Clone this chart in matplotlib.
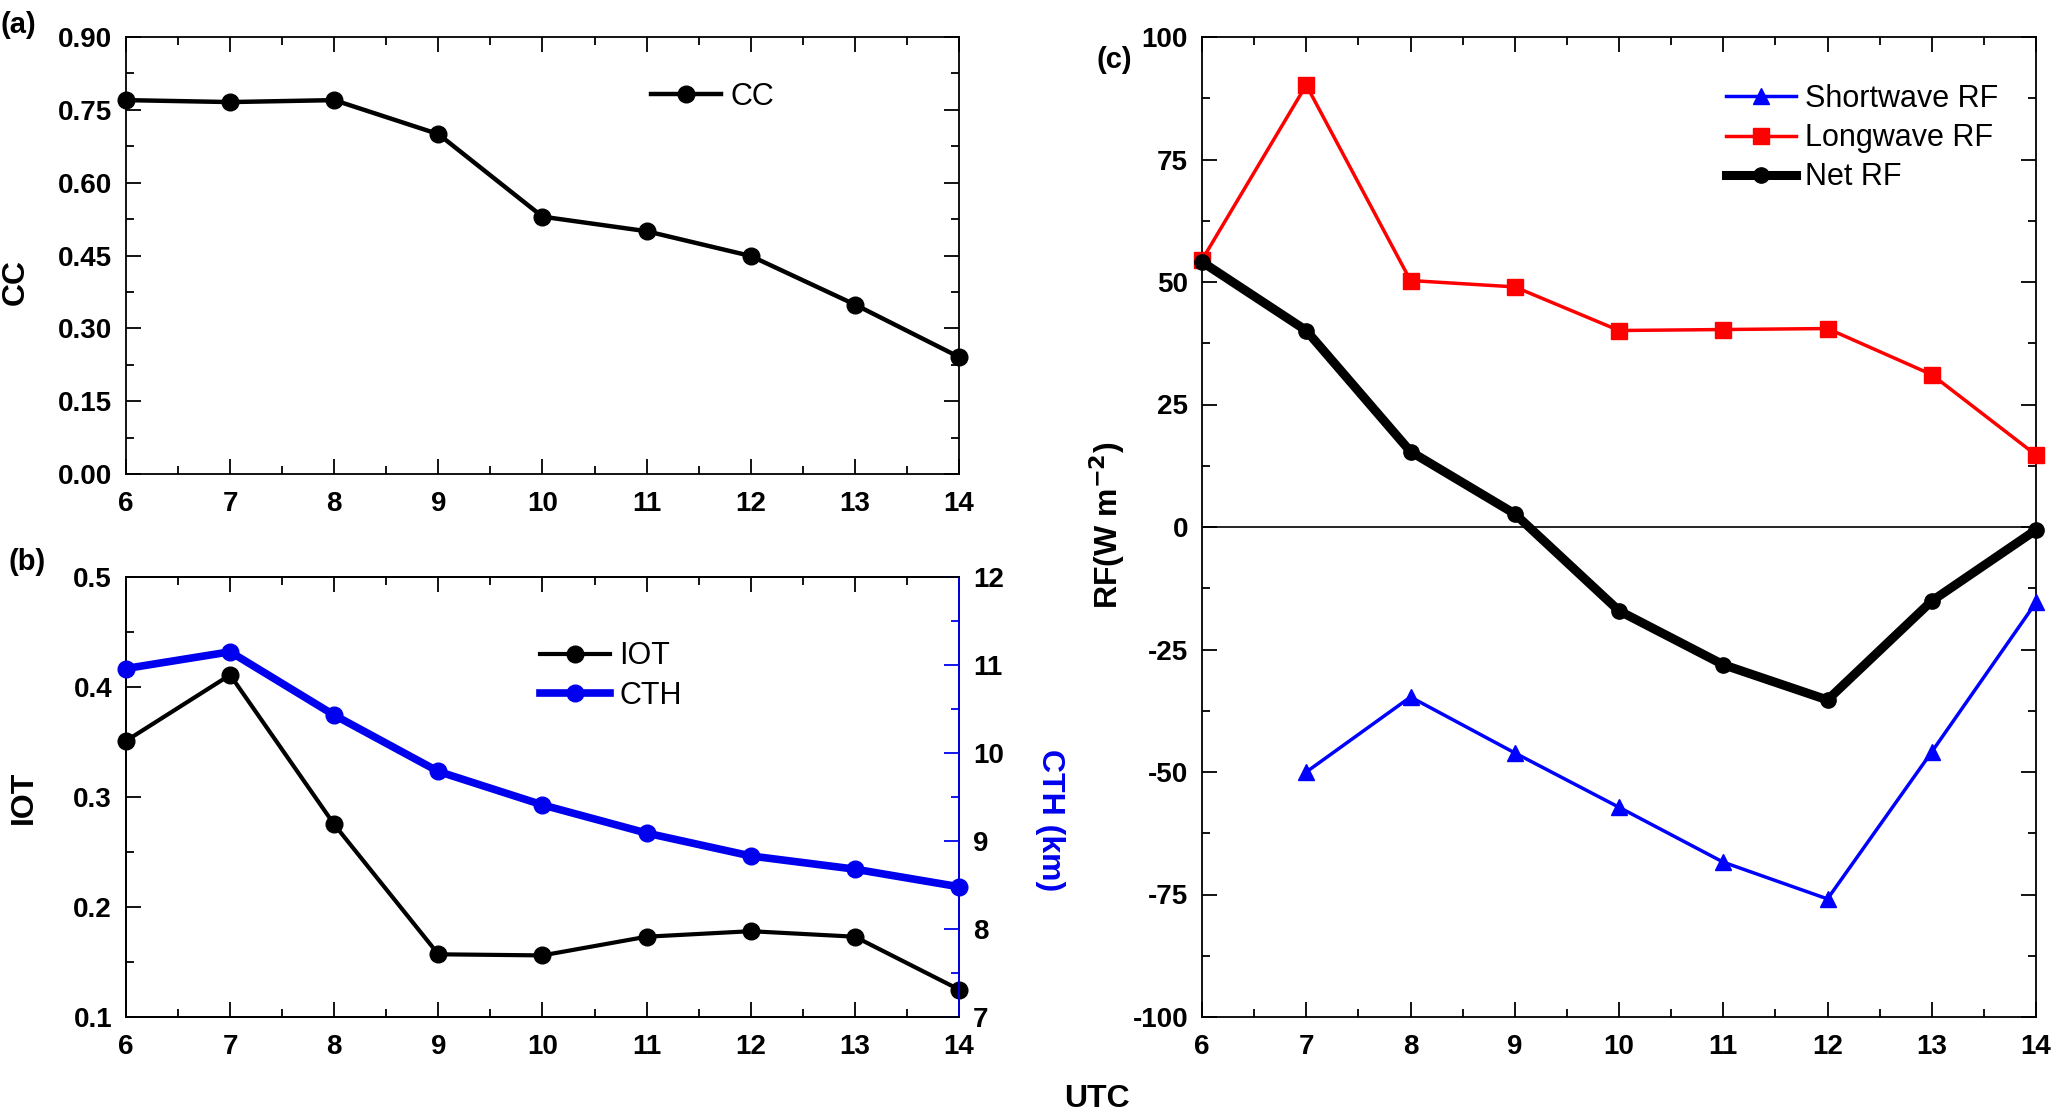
import matplotlib
matplotlib.use("Agg")
import matplotlib.pyplot as plt
from matplotlib.ticker import MultipleLocator, FormatStrFormatter

wide = ['Liberation Sans', 'DejaVu Sans']
plt.rcParams['font.family'] = wide
plt.rcParams['axes.unicode_minus'] = False

utc = [6, 7, 8, 9, 10, 11, 12, 13, 14]
cc = [0.770, 0.766, 0.770, 0.700, 0.530, 0.500, 0.449, 0.349, 0.241]
iot = [0.351, 0.411, 0.275, 0.157, 0.156, 0.173, 0.178, 0.173, 0.125]
cth = [10.96, 11.15, 10.43, 9.79, 9.41, 9.09, 8.83, 8.68, 8.48]
utc_sw = [7, 8, 9, 10, 11, 12, 13, 14]
sw_rf = [-50.0, -34.7, -46.1, -57.2, -68.4, -75.9, -45.9, -15.4]
lw_rf = [54.5, 90.2, 50.3, 49.0, 40.1, 40.3, 40.5, 31.1, 14.7]
net_rf = [54.1, 40.1, 15.4, 2.7, -17.1, -28.1, -35.3, -15.1, -0.6]

W, H = 2057, 1113
fig = plt.figure(figsize=(W / 100, H / 100), dpi=100)

def frac(l, t, r, b):
    return [l / W, 1 - b / H, (r - l) / W, (b - t) / H]

tick_fs = 20
SW = 1.3
def style(ax, xmaj, ymaj, ymin, right=True):
    ax.tick_params(which='both', direction='in', top=True, right=right, width=SW)
    ax.tick_params(which='major', length=11, labelsize=tick_fs)
    ax.tick_params(which='minor', length=6)
    ax.tick_params(axis='x', which='major', pad=12)
    ax.tick_params(axis='y', which='major', pad=10)
    ax.xaxis.set_major_locator(MultipleLocator(xmaj))
    ax.xaxis.set_minor_locator(MultipleLocator(xmaj / 2))
    ax.yaxis.set_major_locator(MultipleLocator(ymaj))
    ax.yaxis.set_minor_locator(MultipleLocator(ymin))
    for lab in ax.get_xticklabels() + ax.get_yticklabels():
        lab.set_fontweight('bold')
    for s in ax.spines.values():
        s.set_linewidth(SW)

lab_fs = 23
leg_fs = 22

# (a)
ax1 = fig.add_axes(frac(126, 37, 959, 474))
ax1.plot(utc, cc, '-o', color='black', lw=3.2, ms=12, label='CC', clip_on=False, zorder=5)
ax1.set_xlim(6, 14)
ax1.set_ylim(0, 0.9)
ax1.yaxis.set_major_formatter(FormatStrFormatter('%.2f'))
style(ax1, 1, 0.15, 0.075)
ax1.legend(loc='upper left', bbox_to_anchor=(0.597, 0.96), frameon=False,
           fontsize=leg_fs, handlelength=2.3, handletextpad=0.3)
ax1.set_ylabel('CC', fontsize=lab_fs, fontweight='bold', va='center')
ax1.yaxis.set_label_coords(-0.132, 0.439)

# (b)
ax2 = fig.add_axes(frac(126, 577, 959, 1017))
l1, = ax2.plot(utc, iot, '-o', color='black', lw=3.0, ms=12, label='IOT', clip_on=False, zorder=5)
ax2.set_xlim(6, 14)
ax2.set_ylim(0.1, 0.5)
style(ax2, 1, 0.1, 0.05, right=False)
ax2.set_ylabel('IOT', fontsize=lab_fs, fontweight='bold', va='center')
ax2.yaxis.set_label_coords(-0.122, 0.5)
ax2b = ax2.twinx()
l2, = ax2b.plot(utc, cth, '-o', color='#0000EE', lw=5.5, ms=12, label='CTH', clip_on=False, zorder=5)
ax2b.set_ylim(7, 12)
ax2b.yaxis.set_major_locator(MultipleLocator(1))
ax2b.yaxis.set_minor_locator(MultipleLocator(0.5))
ax2b.tick_params(which='both', direction='in', colors='#0000EE', width=SW)
ax2b.tick_params(which='major', length=11, labelsize=tick_fs, pad=10, labelcolor='black')
ax2b.tick_params(which='minor', length=6)
for lab in ax2b.get_yticklabels():
    lab.set_fontweight('bold')
for s in ax2b.spines.values():
    s.set_linewidth(SW)
ax2b.spines['right'].set_color('#0000EE')
ax2b.set_ylabel('CTH (km)', fontsize=lab_fs, fontweight='bold',
                color='#0000EE', rotation=270, va='center')
ax2b.yaxis.set_label_coords(1.109, 0.448)
ax2.legend(handles=[l1, l2], loc='upper left', bbox_to_anchor=(0.464, 0.916), frameon=False,
           fontsize=leg_fs, handlelength=2.3, handletextpad=0.3, labelspacing=0.3)

# (c)
ax3 = fig.add_axes(frac(1202, 37, 2036, 1017))
ax3.axhline(0, color='black', lw=1.2, zorder=1)
ax3.plot(utc_sw, sw_rf, '-^', color='#0000FF', lw=2.5, ms=12, label='Shortwave RF', clip_on=False, zorder=4)
ax3.plot(utc, lw_rf, '-s', color='#FF0000', lw=2.5, ms=11, label='Longwave RF', clip_on=False, zorder=4)
ax3.plot(utc, net_rf, '-o', color='black', lw=6.5, ms=11, label='Net RF', clip_on=False, zorder=5)
ax3.set_xlim(6, 14)
ax3.set_ylim(-100, 100)
style(ax3, 1, 25, 12.5)
ax3.legend(loc='upper left', bbox_to_anchor=(0.595, 0.98), frameon=False,
           fontsize=leg_fs, handlelength=2.3, handletextpad=0.3, labelspacing=0.3)
ax3.set_ylabel('RF(W m$^{\\mathbf{-2}}$)', fontsize=lab_fs, fontweight='bold', va='center')
ax3.yaxis.set_label_coords(-0.114, 0.502)

fig.text(1 / W, 1 - 25 / H, '(a)', fontsize=21, fontweight='bold', va='center', ha='left')
fig.text(8 / W, 1 - 562 / H, '(b)', fontsize=21, fontweight='bold', va='center', ha='left')
fig.text(1097 / W, 1 - 60 / H, '(c)', fontsize=21, fontweight='bold', va='center', ha='left')
fig.text(1097 / W, 1 - 1099 / H, 'UTC', fontsize=lab_fs, fontweight='bold', va='center', ha='center')

fig.savefig('out.png', dpi=100)
